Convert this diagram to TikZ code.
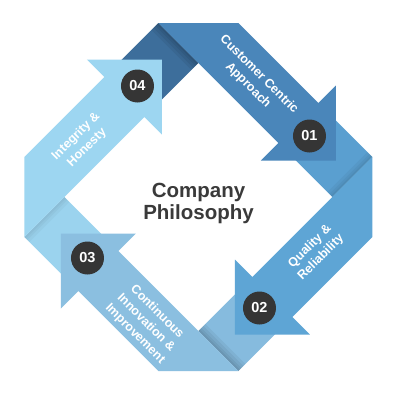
\documentclass[tikz,border=0pt]{standalone}
\usepackage{fontspec}
\setmainfont{Liberation Sans}
\definecolor{cA}{HTML}{4A86BA}
\definecolor{cB}{HTML}{5EA5D5}
\definecolor{cC}{HTML}{8BBFE0}
\definecolor{cD}{HTML}{9DD6F1}
\definecolor{fA}{HTML}{3D6E9B}
\definecolor{fB}{HTML}{5A9FD0}
\definecolor{fC}{HTML}{86BBDE}
\definecolor{fD}{HTML}{9BD3EE}
\definecolor{badge}{HTML}{353535}
\definecolor{titlecol}{HTML}{3A3A3A}
\begin{document}
\begin{tikzpicture}[x=1pt,y=1pt,
  extp/.style={insert path={(120,94) -- (174,40) -- (134,0) -- (80,54) -- cycle}},
  arrowp/.style={insert path={(-40,174) -- (40,174) -- (120,94) -- (137.5,111.5) -- (137.5,36.5) -- (62.5,36.5) -- (80,54) -- cycle}},
  stripe/.style={insert path={(174,40) -- (134,0) -- ({134-#1/2},{#1/2}) -- ({174-#1/2},{40+#1/2}) -- cycle}},
  badgecirc/.style={circle, fill=badge, minimum size=33pt, inner sep=0pt, text=white, font=\bfseries\fontsize{14.5}{14.5}\selectfont},
  lbl/.style={text=white, font=\bfseries\fontsize{12.5}{15.5}\selectfont, align=center, inner sep=0pt},
]
\useasboundingbox (-198.5,-203) rectangle (201.5,197);
\fill[white] (-198.5,-203) rectangle (201.5,197);
% fold pieces (extensions beyond each head)
\begin{scope}[rotate=0]
  \fill[fB, extp];
  \foreach \w in {3,6,10} {\fill[black, opacity=0.04, stripe=\w];}
\end{scope}
\begin{scope}[rotate=-90]
  \fill[fC, extp];
  \foreach \w in {3,6,10,14} {\fill[black, opacity=0.05, stripe=\w];}
\end{scope}
\begin{scope}[rotate=-180]
  \fill[fD, extp];
  \foreach \w in {3,6,10} {\fill[black, opacity=0.03, stripe=\w];}
\end{scope}
\begin{scope}[rotate=-270]
  \fill[fA, extp];
  \foreach \w in {3,6,10,14} {\fill[black, opacity=0.06, stripe=\w];}
\end{scope}
% arrows
\begin{scope}[rotate=0]   \fill[cA, arrowp]; \node[badgecirc] (b1) at (111,61) {01}; \end{scope}
\begin{scope}[rotate=-90] \fill[cB, arrowp]; \node[badgecirc] (b2) at (111,61) {02}; \end{scope}
\begin{scope}[rotate=-180]\fill[cC, arrowp]; \node[badgecirc] (b3) at (111,61) {03}; \end{scope}
\begin{scope}[rotate=-270]\fill[cD, arrowp]; \node[badgecirc] (b4) at (111,61) {04}; \end{scope}
% labels
\node[lbl, rotate=-45] (t1) at (55,117) {Customer Centric\\Approach};
\node[lbl, rotate=45] (t2) at (117,-55) {Quality \&\\Reliability};
\node[lbl, rotate=-45] (t3) at (-52.5,-126) {Continuous\\Innovation \&\\Improvement};
\node[lbl, rotate=45] (t4) at (-117,55) {Integrity \&\\Honesty};
% title
\node[text=titlecol, font=\bfseries\fontsize{20.5}{22}\selectfont, align=center, inner sep=0pt] (title) at (0,-6) {Company\\Philosophy};
\end{tikzpicture}
\end{document}
